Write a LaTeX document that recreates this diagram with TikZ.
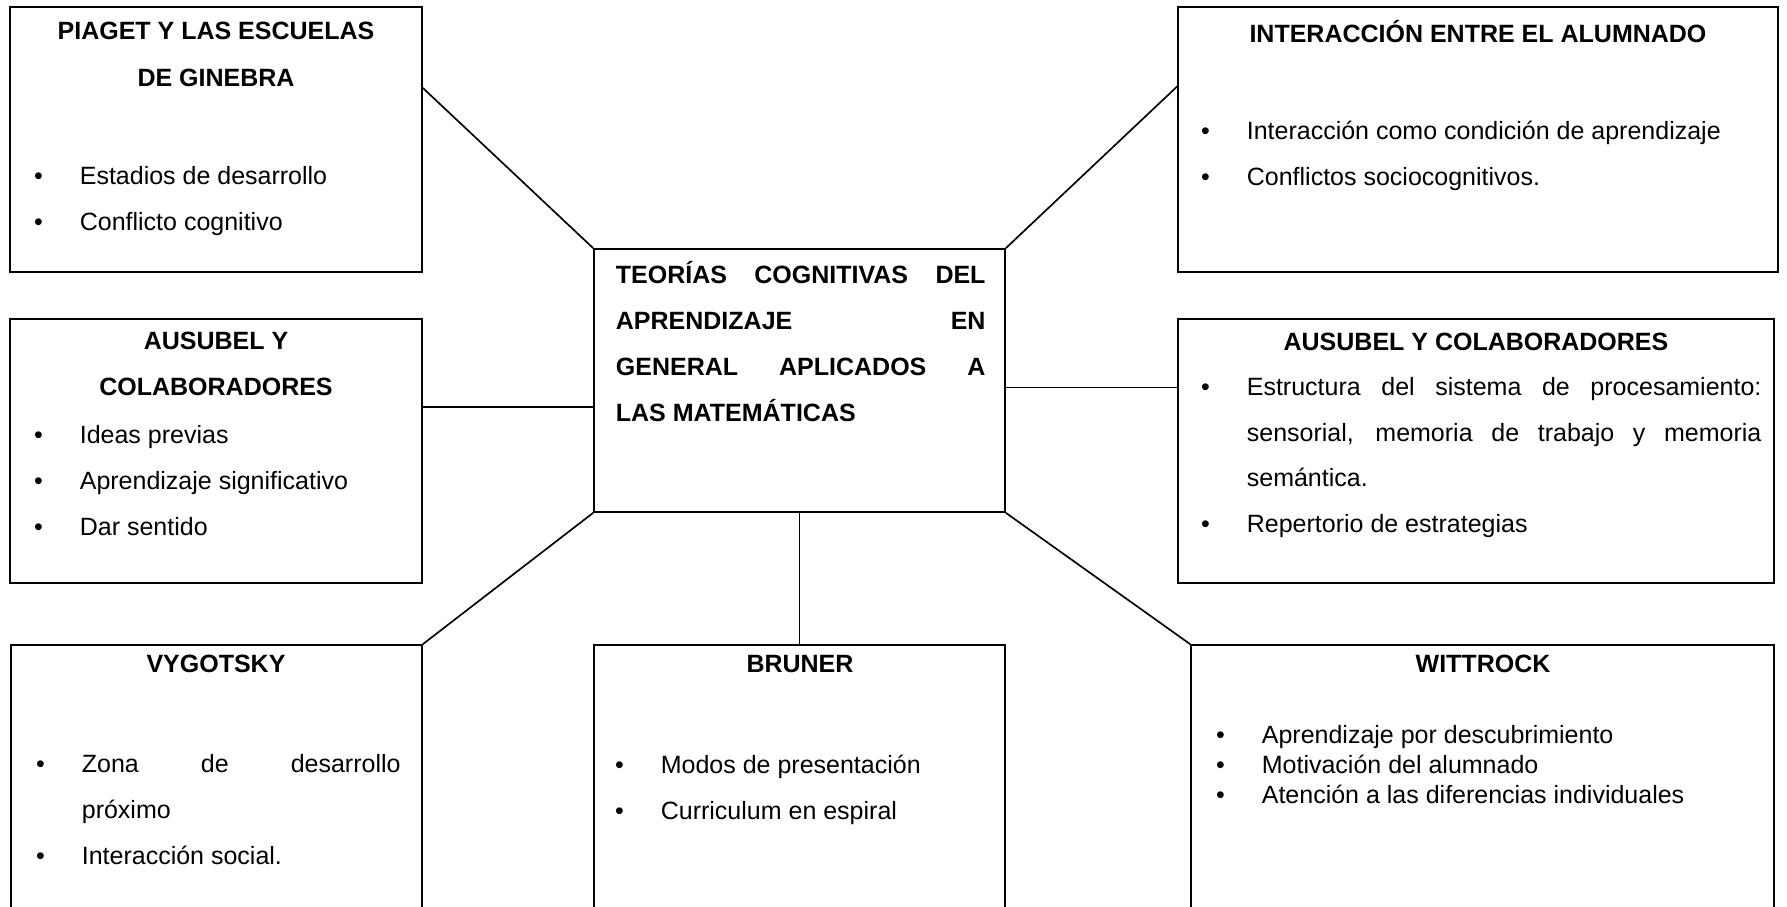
\documentclass[tikz,border=0pt]{standalone}
\usepackage{fontspec}
\setmainfont{Liberation Sans}
\usetikzlibrary{fit}

\newcommand{\itm}{\hangindent=22pt\hangafter=1\noindent\makebox[22pt][l]{\textbullet}}

\tikzset{
    caja/.style={draw, line width=0.8pt, inner sep=0pt},
    titulo/.style={font=\fontsize{12}{22.3}\selectfont\bfseries, align=center, anchor=base, inner sep=0pt},
    lista/.style={font=\fontsize{12}{22.3}\selectfont, anchor=base west, inner sep=0pt, align=justify, text width=#1},
    enlace/.style={line width=0.8pt}
}

\begin{document}
\begin{tikzpicture}[x=0.48pt, y=-0.48pt]
    \clip (0,0) rectangle (1787,907);
    % cajas
    \node[caja, fit={(10,7) (422,272)}] (piaget) {};
    \node[caja, fit={(1178,7) (1778,272)}] (interaccion) {};
    \node[caja, fit={(594,249) (1005,512)}] (centro) {};
    \node[caja, fit={(10,319) (422,583)}] (ausubelL) {};
    \node[caja, fit={(1178,319) (1774,583)}] (ausubelR) {};
    \node[caja, fit={(11,645) (422,960)}] (vygotsky) {};
    \node[caja, fit={(594,645) (1005,960)}] (bruner) {};
    \node[caja, fit={(1191,645) (1774,960)}] (wittrock) {};

    % textos
    \node[titulo] (tpiaget) at (216,86) {PIAGET Y LAS ESCUELAS\\DE GINEBRA};
    \node[lista=179pt] (lpiaget) at (33.6,184) {\itm Estadios de desarrollo\par \itm Conflicto cognitivo};

    \node[titulo] (tinteraccion) at (1478,42) {INTERACCIÓN ENTRE EL ALUMNADO};
    \node[lista=271pt] (linteraccion) at (1200.6,139) {\itm Interacción como condición de aprendizaje\par \itm Conflictos sociocognitivos.};

    \node[anchor=base west, inner sep=0pt, text width=177.4pt, align=justify, font=\fontsize{12}{22.1}\selectfont\bfseries] (tcentro) at (615.5,283)
        {TEORÍAS COGNITIVAS DEL\linebreak APRENDIZAJE EN\linebreak GENERAL APLICADOS A\linebreak LAS MATEMÁTICAS};

    \node[titulo] (tausubelL) at (216,395.5) {AUSUBEL Y\\COLABORADORES};
    \node[lista=179pt] (lausubelL) at (33.6,443) {\itm Ideas previas\par \itm Aprendizaje significativo\par \itm Dar sentido};

    \node[titulo] (tausubelR) at (1476,350) {AUSUBEL Y COLABORADORES};
    \node[lista=269pt, font=\fontsize{12}{21.9}\selectfont] (lausubelR) at (1200.6,395.5) {\itm Estructura del sistema de procesamiento:\linebreak sensorial, memoria de trabajo y memoria\linebreak semántica.\par \itm Repertorio de estrategias};

    \node[titulo] (tvygotsky) at (216,672.5) {VYGOTSKY};
    \node[lista=175pt] (lvygotsky) at (35.6,772) {\itm Zona de desarrollo\linebreak próximo\par \itm Interacción social.};

    \node[titulo] (tbruner) at (800,672.5) {BRUNER};
    \node[lista=180pt] (lbruner) at (614.6,773) {\itm Modos de presentación\par \itm Curriculum en espiral};

    \node[titulo] (twittrock) at (1483,672.5) {WITTROCK};
    \node[lista=264pt, font=\fontsize{12}{14.6}\selectfont] (lwittrock) at (1215.6,743) {\itm Aprendizaje por descubrimiento\par \itm Motivación del alumnado\par \itm Atención a las diferencias individuales};

    % enlaces
    \draw[enlace] (piaget.14.3) -- (centro.north west);
    \draw[enlace] (interaccion.170.07) -- (centro.north east);
    \draw[enlace] (ausubelL.12.06) -- (ausubelL.12.06 -| centro.west);
    \draw[enlace] (ausubelR.168.06) -- (ausubelR.168.06 -| centro.east);
    \draw[enlace] (centro.south west) -- (vygotsky.north east);
    \draw[enlace] (centro.south) -- (bruner.north);
    \draw[enlace] (centro.south east) -- (wittrock.north west);
\end{tikzpicture}
\end{document}
